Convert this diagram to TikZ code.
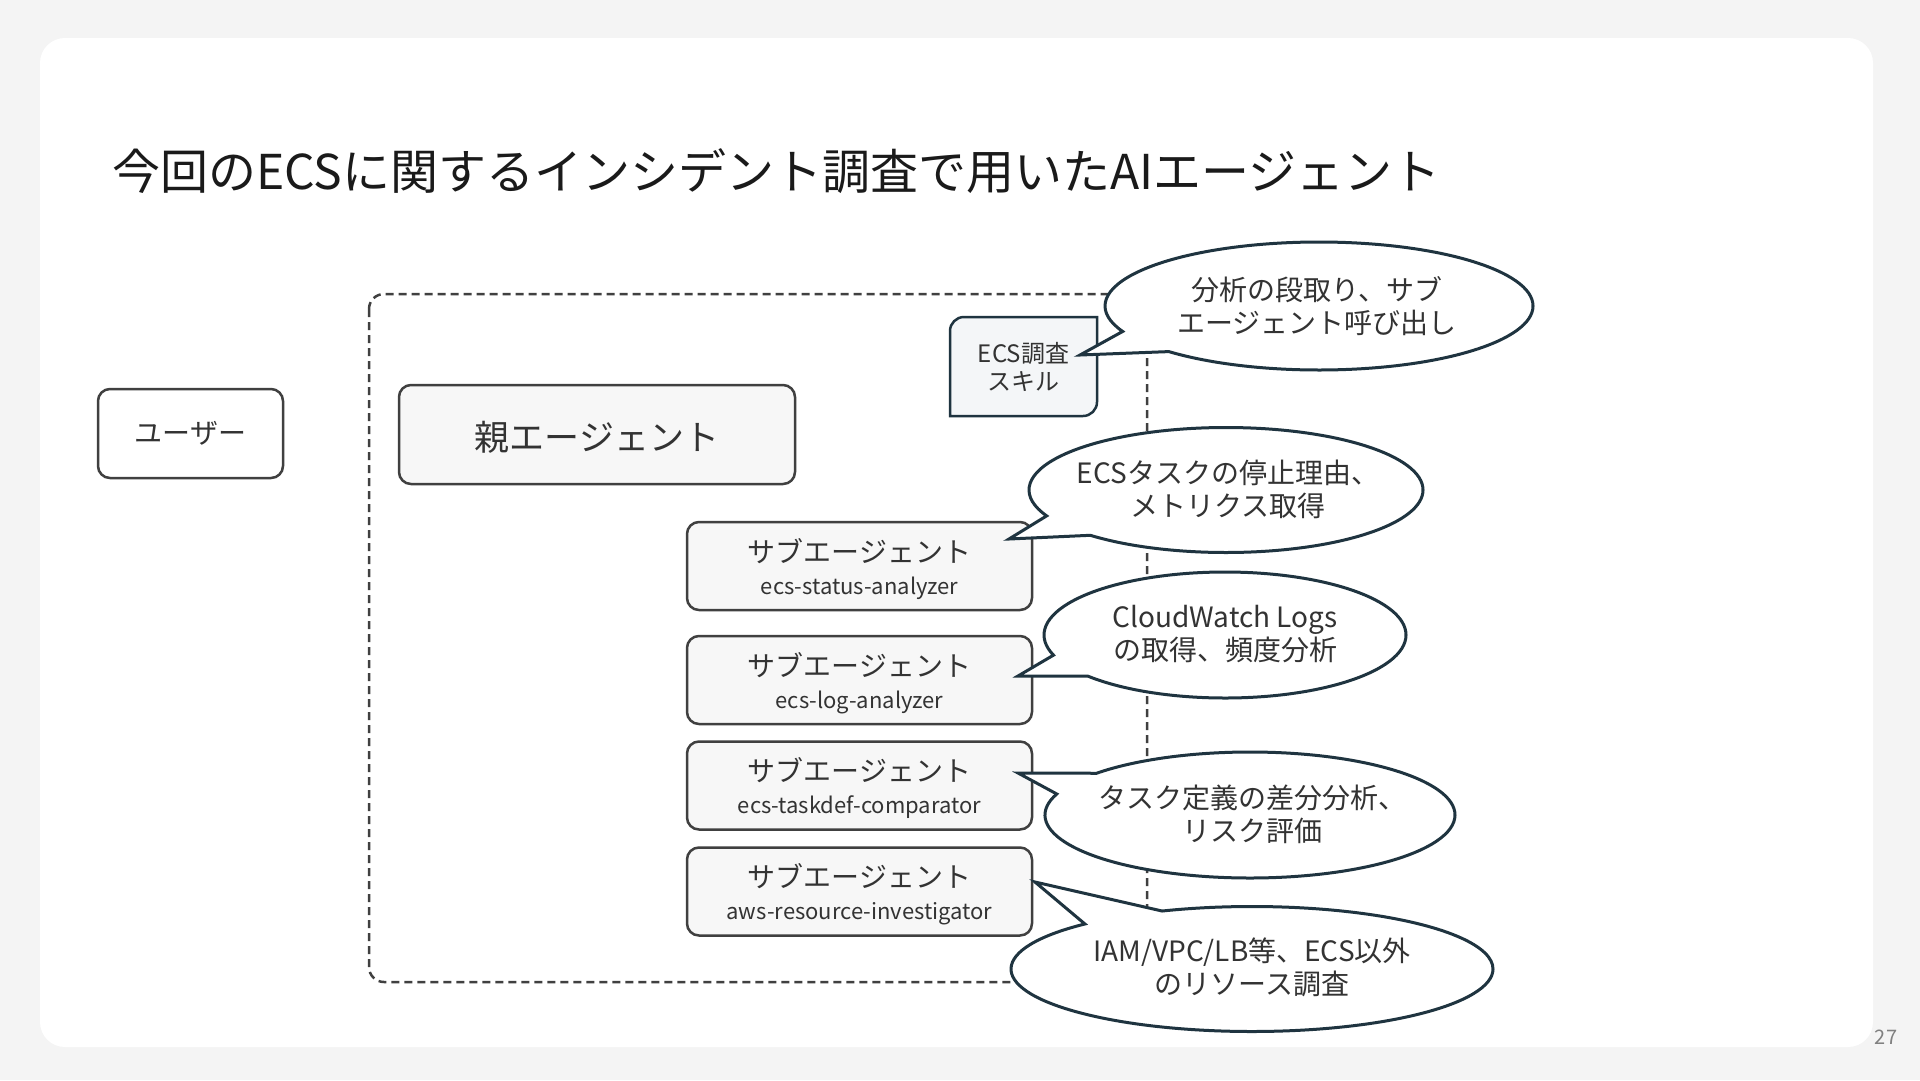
\documentclass[tikz,border=0pt]{standalone}
\usepackage{fontspec}
\setmainfont{Noto Sans CJK JP}
\usetikzlibrary{shapes.callouts}
\definecolor{bgc}{HTML}{F4F4F4}
\definecolor{boxc}{HTML}{404040}
\definecolor{boxfill}{HTML}{F7F7F7}
\definecolor{calc}{HTML}{1F3440}
\definecolor{skillfill}{HTML}{F4F6F8}
\definecolor{txt}{HTML}{333333}
\definecolor{ttl}{HTML}{1A1A1A}
\begin{document}
\begin{tikzpicture}[x=1pt,y=1pt,
  box/.style={draw=boxc, line width=2.5pt, rounded corners=12pt, fill=boxfill, inner sep=0pt},
  bubble/.style={ellipse callout, draw=calc, line width=3pt, fill=white, inner sep=0pt,
     callout pointer arc=22},
  btxt/.style={align=center, text=txt, inner sep=0pt, font=\fontsize{28}{33}\selectfont},
  lbl/.style={text=txt, inner sep=0pt},
  big/.style={font=\fontsize{28}{33}\selectfont},
  small/.style={font=\fontsize{22}{26}\selectfont}]
\useasboundingbox (0,0) rectangle (1920,-1080);
\fill[bgc] (0,0) rectangle (1920,-1080);
\fill[white, rounded corners=25pt] (40,-38) rectangle (1873,-1047);

% title
\node[anchor=west, text=ttl, inner sep=0pt, font=\fontsize{48}{56}\selectfont] (title) at (112,-171)
  {今回のECSに関するインシデント調査で用いたAIエージェント};

% dashed container
\draw[boxc, line width=2.5pt, dash pattern=on 8pt off 5pt, rounded corners=15pt]
  (369,-294) rectangle (1147,-982);

% user and parent
\node[box, fill=white, minimum width=185pt, minimum height=89pt] (user) at (190.5,-433.5) {};
\node[lbl, big] (usert) at (user.center) {ユーザー};
\node[box, minimum width=396pt, minimum height=99pt] (parent) at (597,-434.5) {};
\node[lbl, font=\fontsize{35}{40}\selectfont] (parentt) at ([yshift=-3pt]parent.center) {親エージェント};

% ECS skill box (round diagonal corners)
\draw[calc, fill=skillfill, line width=2.5pt]
  (950,-416) -- (950,-331) arc[start angle=180, end angle=90, radius=14]
  -- (1097,-317) -- (1097,-402) arc[start angle=0, end angle=-90, radius=14] -- cycle;
\node[lbl, align=center, font=\fontsize{24}{28}\selectfont] (skill) at (1023.5,-366.5) {ECS調査\\スキル};

% sub agents
\foreach \n/\cy/\name in {s1/566/ecs-status-analyzer, s2/680/ecs-log-analyzer, s3/785.5/ecs-taskdef-comparator, s4/891.5/aws-resource-investigator}{
  \node[box, minimum width=345pt, minimum height=88pt] (\n) at (859.5,-\cy) {};
  \node[lbl, big] (\n a) at ([yshift=15pt]\n.center) {サブエージェント};
  \node[lbl, small] (\n b) at ([yshift=-22pt]\n.center) {\name};
}

% callout tips
\coordinate (t1) at (1080,-355);
\coordinate (t2) at (1009,-539);
\coordinate (t3) at (1018,-676);
\coordinate (t4) at (1018,-773);
\coordinate (t5) at (1035,-882);

\node[bubble, minimum width=428pt, minimum height=128pt, callout absolute pointer={(t1)}] (c1) at (1319,-306) {};
\node[btxt] (c1t) at ([xshift=-2pt]c1.center) {分析の段取り、サブ\\エージェント呼び出し};
\node[bubble, minimum width=394pt, minimum height=125pt, callout absolute pointer={(t2)}] (c2) at (1226,-490) {};
\node[btxt] (c2t) at ([xshift=2pt,yshift=1pt]c2.center) {ECSタスクの停止理由、\\メトリクス取得};
\node[bubble, minimum width=362pt, minimum height=126pt, callout absolute pointer={(t3)}] (c3) at (1225,-635) {};
\node[btxt] (c3t) at ([yshift=1pt]c3.center) {CloudWatch Logs\\の取得、頻度分析};
\node[bubble, minimum width=410pt, minimum height=126pt, callout absolute pointer={(t4)}] (c4) at (1250,-815) {};
\node[btxt] (c4t) at ([xshift=2pt,yshift=1pt]c4.center) {タスク定義の差分分析、\\リスク評価};
\node[bubble, minimum width=482pt, minimum height=125pt, callout absolute pointer={(t5)}] (c5) at (1252,-969) {};
\node[btxt] (c5t) at ([yshift=2pt]c5.center) {IAM/VPC/LB等、ECS以外\\のリソース調査};

% page number
\node[text=gray, inner sep=0pt, font=\fontsize{20}{24}\selectfont] (pg) at (1886,-1037) {27};
\end{tikzpicture}
\end{document}
